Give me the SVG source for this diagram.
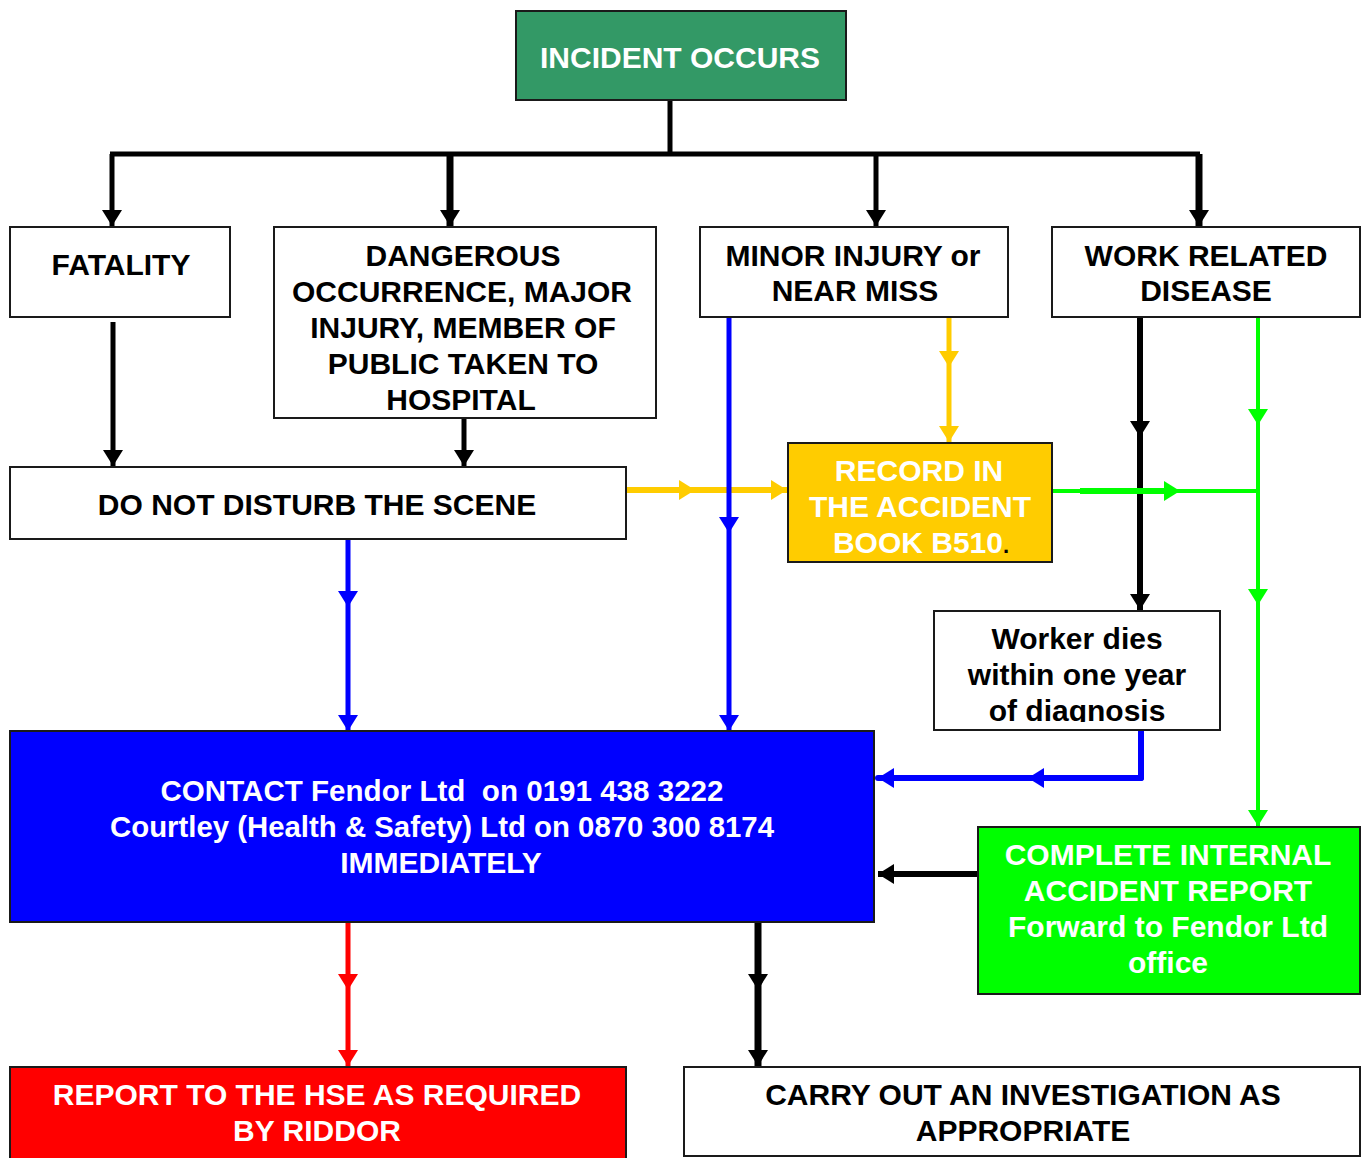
<svg xmlns="http://www.w3.org/2000/svg" width="1368" height="1158" viewBox="0 0 1368 1158">
  <style>
    .box { stroke: #1a1a1a; stroke-width: 2; }
    .w { fill: #ffffff; }
    .t { font-family: "Liberation Sans", Arial, sans-serif; font-weight: bold; font-size: 30px; text-anchor: middle; }
    .dark { fill: #000000; }
    .light { fill: #ffffff; }
    .ln { fill: none; stroke-linejoin: round; }
    .k { stroke: #000000; }
    .b { stroke: #0000ff; }
    .o { stroke: #ffcc00; }
    .g { stroke: #00ff00; }
    .r { stroke: #ff0000; }
  </style>
  <defs>
    <marker id="ak" markerUnits="userSpaceOnUse" markerWidth="16" markerHeight="20" viewBox="0 0 16 20" refX="16" refY="10" orient="auto"><path d="M0,0 L16,10 L0,20 Z" fill="#000000"/></marker>
    <marker id="ab" markerUnits="userSpaceOnUse" markerWidth="16" markerHeight="20" viewBox="0 0 16 20" refX="16" refY="10" orient="auto"><path d="M0,0 L16,10 L0,20 Z" fill="#0000ff"/></marker>
    <marker id="ao" markerUnits="userSpaceOnUse" markerWidth="16" markerHeight="20" viewBox="0 0 16 20" refX="16" refY="10" orient="auto"><path d="M0,0 L16,10 L0,20 Z" fill="#ffcc00"/></marker>
    <marker id="ag" markerUnits="userSpaceOnUse" markerWidth="16" markerHeight="20" viewBox="0 0 16 20" refX="16" refY="10" orient="auto"><path d="M0,0 L16,10 L0,20 Z" fill="#00ff00"/></marker>
    <marker id="ar" markerUnits="userSpaceOnUse" markerWidth="16" markerHeight="20" viewBox="0 0 16 20" refX="16" refY="10" orient="auto"><path d="M0,0 L16,10 L0,20 Z" fill="#ff0000"/></marker>
    <clipPath id="clipWorker"><rect x="934" y="611" width="286" height="111"/></clipPath>
  </defs>

  <!-- connectors -->
  <g id="connectors">
    <!-- top distribution bar -->
    <polyline class="ln k" stroke-width="5" points="670,100 670,154"/>
    <polyline class="ln k" stroke-width="5" points="110,154 1200,154"/>
    <polyline class="ln k" stroke-width="5" points="112,154 112,226" marker-end="url(#ak)"/>
    <polyline class="ln k" stroke-width="7" points="450,154 450,226" marker-end="url(#ak)"/>
    <polyline class="ln k" stroke-width="5" points="876,154 876,226" marker-end="url(#ak)"/>
    <polyline class="ln k" stroke-width="7" points="1199,154 1199,226" marker-end="url(#ak)"/>

    <!-- into DO NOT DISTURB -->
    <polyline class="ln k" stroke-width="5" points="113,322 113,466" marker-end="url(#ak)"/>
    <polyline class="ln k" stroke-width="5" points="464,418 464,466" marker-end="url(#ak)"/>

    <!-- orange into the accident book -->
    <polyline class="ln o" stroke-width="6" points="626,490 695,490 787,490" marker-mid="url(#ao)" marker-end="url(#ao)"/>
    <polyline class="ln o" stroke-width="5" points="949,317 949,367 949,442" marker-mid="url(#ao)" marker-end="url(#ao)"/>

    <!-- blue into CONTACT -->
    <polyline class="ln b" stroke-width="5" points="729,317 729,533 729,731" marker-mid="url(#ab)" marker-end="url(#ab)"/>
    <polyline class="ln b" stroke-width="5" points="348,539 348,607 348,731" marker-mid="url(#ab)" marker-end="url(#ab)"/>
    <polyline class="ln b" stroke-width="6" stroke-linecap="round" points="1141,730 1141,778"/>
    <polyline class="ln b" stroke-width="6" stroke-linecap="round" points="1141,778 1028,778 878,778" marker-mid="url(#ab)" marker-end="url(#ab)"/>

    <!-- work related disease branches -->
    <polyline class="ln k" stroke-width="6" points="1140,317 1140,437 1140,610" marker-mid="url(#ak)" marker-end="url(#ak)"/>
    <polyline class="ln g" stroke-width="4" points="1258,317 1258,425 1258,605 1258,826" marker-mid="url(#ag)" marker-end="url(#ag)"/>
    <polyline class="ln g" stroke-width="4" points="1052,491 1180,491 1258,491" marker-mid="url(#ag)"/>
    <line class="ln g" stroke-width="6" x1="1080" y1="491" x2="1170" y2="491"/>

    <!-- internal report into CONTACT -->
    <polyline class="ln k" stroke-width="6" points="978,874 878,874" marker-end="url(#ak)"/>

    <!-- CONTACT downwards -->
    <polyline class="ln r" stroke-width="5" points="348,922 348,990 348,1066" marker-mid="url(#ar)" marker-end="url(#ar)"/>
    <polyline class="ln k" stroke-width="7" points="758,922 758,990 758,1066" marker-mid="url(#ak)" marker-end="url(#ak)"/>
  </g>

  <!-- nodes -->
  <g id="incident">
    <rect class="box" x="516" y="11" width="330" height="89" fill="#339966"/>
    <text class="t light" x="680" y="68" font-size="30.4">INCIDENT OCCURS</text>
  </g>

  <g id="fatality">
    <rect class="box w" x="10" y="227" width="220" height="90"/>
    <text class="t dark" x="121" y="275" font-size="29">FATALITY</text>
  </g>

  <g id="dangerous">
    <rect class="box w" x="274" y="227" width="382" height="191"/>
    <text class="t dark" x="463" y="266" font-size="29">DANGEROUS</text>
    <text class="t dark" x="462" y="302" font-size="29">OCCURRENCE, MAJOR</text>
    <text class="t dark" x="463" y="338" font-size="29">INJURY, MEMBER OF</text>
    <text class="t dark" x="463" y="374" font-size="29">PUBLIC TAKEN TO</text>
    <text class="t dark" x="461" y="410" font-size="29">HOSPITAL</text>
  </g>

  <g id="minor">
    <rect class="box w" x="700" y="227" width="308" height="90"/>
    <text class="t dark" x="853" y="266">MINOR INJURY or</text>
    <text class="t dark" x="855" y="301">NEAR MISS</text>
  </g>

  <g id="disease">
    <rect class="box w" x="1052" y="227" width="308" height="90"/>
    <text class="t dark" x="1206" y="266" font-size="29.6">WORK RELATED</text>
    <text class="t dark" x="1206" y="301" font-size="29.6">DISEASE</text>
  </g>

  <g id="scene">
    <rect class="box w" x="10" y="467" width="616" height="72"/>
    <text class="t dark" x="317" y="515" font-size="30.4">DO NOT DISTURB THE SCENE</text>
  </g>

  <g id="record">
    <rect class="box" x="788" y="443" width="264" height="119" fill="#ffcc00"/>
    <text class="t light" x="919" y="481" font-size="29.2">RECORD IN</text>
    <text class="t light" x="920" y="517" font-size="29.2">THE ACCIDENT</text>
    <text class="t light" x="921" y="553" font-size="29.2">BOOK B510<tspan fill="#000000" font-size="22">.</tspan></text>
  </g>

  <g id="worker">
    <rect class="box w" x="934" y="611" width="286" height="119"/>
    <g clip-path="url(#clipWorker)">
      <text class="t dark" x="1077" y="649">Worker dies</text>
      <text class="t dark" x="1077" y="685">within one year</text>
      <text class="t dark" x="1077" y="721">of diagnosis</text>
    </g>
  </g>

  <g id="contact">
    <rect class="box" x="10" y="731" width="864" height="191" fill="#0000ff"/>
    <text class="t light" x="442" y="801" font-size="29.5" textLength="563" lengthAdjust="spacingAndGlyphs" style="white-space:pre">CONTACT Fendor Ltd  on 0191 438 3222</text>
    <text class="t light" x="442" y="837" font-size="29.4" textLength="664" lengthAdjust="spacingAndGlyphs">Courtley (Health &amp; Safety) Ltd on 0870 300 8174</text>
    <text class="t light" x="441" y="873" font-size="29.5">IMMEDIATELY</text>
  </g>

  <g id="internal">
    <rect class="box" x="978" y="827" width="382" height="167" fill="#00ff00"/>
    <text class="t light" x="1168" y="865" font-size="29.3">COMPLETE INTERNAL</text>
    <text class="t light" x="1168" y="901" font-size="29.3">ACCIDENT REPORT</text>
    <text class="t light" x="1168" y="937" font-size="29.3">Forward to Fendor Ltd</text>
    <text class="t light" x="1168" y="973" font-size="29.3">office</text>
  </g>

  <g id="hse">
    <rect class="box" x="10" y="1067" width="616" height="100" fill="#ff0000"/>
    <text class="t light" x="317" y="1105" font-size="30.2">REPORT TO THE HSE AS REQUIRED</text>
    <text class="t light" x="317" y="1141" font-size="30.2">BY RIDDOR</text>
  </g>

  <g id="investigation">
    <rect class="box w" x="684" y="1067" width="676" height="89"/>
    <text class="t dark" x="1023" y="1105" font-size="29.7">CARRY OUT AN INVESTIGATION AS</text>
    <text class="t dark" x="1023" y="1141" font-size="29.7">APPROPRIATE</text>
  </g>
</svg>
